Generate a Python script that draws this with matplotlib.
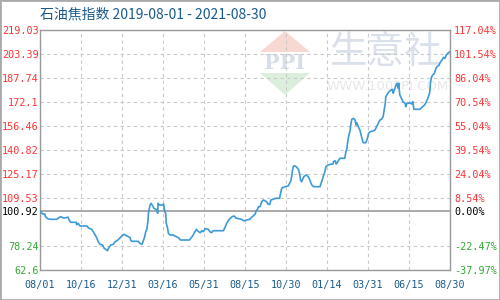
import matplotlib
matplotlib.use("Agg")
import matplotlib.pyplot as plt
import matplotlib.dates as mdates
from matplotlib.patches import Polygon, Rectangle
import pandas as pd

title = "石油焦指数 2019-08-01 - 2021-08-30"
start_date = "2019-08-01"
end_date = "2021-08-30"

day_offsets = [0, 5, 9, 10, 12, 14, 19, 31, 34, 38, 41, 44, 52, 54, 57, 67, 68, 71, 74, 87,
               90, 96, 99, 102, 105, 108, 111, 116, 119, 122, 125, 127, 131, 136, 139, 143, 148, 153, 156, 159,
               164, 167, 168, 170, 182, 185, 189, 191, 194, 196, 198, 200, 201, 204, 206, 209, 211, 215, 217, 218,
               219, 221, 227, 229, 230, 231, 233, 234, 236, 238, 241, 247, 250, 253, 258, 260, 277, 281, 284, 286,
               290, 293, 297, 300, 303, 306, 312, 315, 318, 321, 340, 343, 346, 349, 352, 356, 360, 363, 368, 374,
               377, 380, 383, 389, 392, 395, 399, 400, 403, 405, 408, 411, 414, 417, 420, 423, 426, 428, 432, 437,
               444, 446, 448, 451, 454, 460, 462, 465, 467, 468, 470, 473, 476, 479, 481, 483, 485, 487, 489, 493,
               494, 497, 499, 502, 504, 507, 519, 522, 524, 526, 528, 530, 534, 538, 543, 544, 547, 549, 551, 553,
               556, 565, 567, 569, 570, 572, 575, 576, 578, 581, 584, 586, 587, 590, 593, 596, 599, 604, 607, 609,
               612, 617, 621, 624, 627, 630, 633, 636, 638, 640, 641, 644, 647, 651, 653, 655, 656, 658, 660, 662,
               664, 665, 666, 667, 670, 673, 677, 678, 680, 683, 686, 689, 691, 692, 693, 704, 708, 711, 714, 717,
               720, 722, 723, 724, 726, 728, 731, 734, 736, 740, 741, 745, 748, 751, 753, 755, 757, 760]

index_values = [100.92, 99.09, 99.09, 97.34, 96.69, 96.03, 95.64, 95.64, 96.50, 97.34, 96.95, 96.50, 96.95, 95.19, 93.69, 93.69, 92.12, 93.04, 91.28, 91.28,
                89.97, 89.12, 87.37, 85.61, 83.65, 81.04, 79.35, 78.89, 76.74, 76.09, 75.18, 76.74, 78.89, 79.35, 81.04, 81.69, 83.45, 85.21, 85.86, 85.21,
                84.30, 83.65, 82.15, 81.30, 81.30, 80.00, 79.35, 81.04, 84.30, 87.56, 89.12, 94.08, 99.55, 104.96, 106.07, 104.31, 102.81, 102.16, 101.25, 99.55,
                106.07, 104.96, 104.96, 105.61, 103.85, 100.60, 99.55, 93.04, 90.82, 86.52, 85.41, 85.41, 84.76, 84.30, 83.25, 82.15, 82.15, 83.91, 85.41, 86.91,
                89.12, 87.82, 86.91, 88.21, 87.56, 89.51, 89.12, 87.56, 86.91, 88.21, 88.21, 90.43, 93.04, 94.73, 96.03, 97.34, 97.79, 96.50, 96.03, 95.64,
                94.73, 94.73, 95.19, 95.64, 96.95, 97.79, 99.09, 100.60, 102.16, 103.85, 103.85, 107.12, 108.22, 107.77, 107.12, 105.42, 105.42, 108.22, 108.68, 109.33,
                109.33, 112.59, 115.85, 116.50, 116.89, 117.35, 118.65, 120.80, 124.51, 127.78, 130.38, 130.38, 129.53, 128.23, 125.62, 121.26, 120.15, 121.72, 123.41, 124.51,
                124.51, 123.41, 122.37, 119.50, 118.00, 116.89, 116.89, 120.15, 122.37, 124.51, 126.67, 129.93, 131.04, 131.49, 131.69, 133.19, 133.84, 131.69, 132.54, 133.84,
                135.41, 135.41, 139.71, 141.92, 145.18, 149.48, 153.85, 157.11, 160.82, 161.47, 160.37, 157.11, 158.61, 156.00, 153.85, 149.48, 145.57, 145.57, 148.44, 151.70,
                152.74, 153.20, 153.85, 156.00, 158.22, 160.37, 160.82, 162.52, 166.89, 171.25, 175.55, 177.31, 178.81, 179.92, 180.37, 177.77, 179.46, 181.03, 183.18, 184.29,
                181.03, 184.29, 179.92, 176.66, 174.51, 172.29, 171.25, 169.03, 171.25, 171.25, 171.64, 170.79, 172.29, 170.14, 167.34, 167.34, 168.64, 169.49, 170.79, 172.94,
                175.55, 177.77, 181.03, 185.33, 188.59, 189.69, 190.80, 194.06, 195.11, 196.21, 197.32, 199.47, 201.23, 200.58, 202.73, 203.38, 204.23, 204.88]

tick_dates = ["2019-08-01", "2019-10-16", "2019-12-31", "2020-03-16", "2020-05-31", "2020-08-15",
              "2020-10-30", "2021-01-14", "2021-03-31", "2021-06-15", "2021-08-30"]
tick_labels = ["08/01", "10/16", "12/31", "03/16", "05/31", "08/15", "10/30", "01/14", "03/31", "06/15", "08/30"]

base_value = 100.92
left_values = [62.6, 78.24, 100.92, 109.53, 125.17, 140.82, 156.46, 172.1, 187.74, 203.39, 219.03]
left_labels = ["62.6", "78.24", "100.92", "109.53", "125.17", "140.82", "156.46", "172.1", "187.74", "203.39", "219.03"]
right_labels = ["-37.97%", "-22.47%", "0.00%", "8.54%", "24.04%", "39.54%", "55.04%", "70.54%", "86.04%", "101.54%", "117.04%"]

RED = "#ff3333"
GREEN = "#33aa33"
BLACK = "#000000"
BLUE_TXT = "#1a5b8c"
LINE = "#3d9ad6"
GRID = "#c8c8c8"
FRAME = "#999999"

dates = pd.to_datetime(start_date) + pd.to_timedelta(day_offsets, unit="D")
tdates = pd.to_datetime(tick_dates)

fig = plt.figure(figsize=(5, 3), dpi=100)
fig.patch.set_facecolor("white")
ax = fig.add_axes([0.08, 0.10, 0.82, 0.80])

def fx(x):
    return x / 500.0
def fy(y):
    return 1 - y / 300.0

# watermark
fig.patches.append(Polygon([(fx(260), fy(52)), (fx(310), fy(52)), (fx(285), fy(31))],
                           closed=True, transform=fig.transFigure, facecolor="#f8d8d3",
                           edgecolor="none", zorder=0))
fig.patches.append(Polygon([(fx(260), fy(73)), (fx(310), fy(73)), (fx(285), fy(95))],
                           closed=True, transform=fig.transFigure, facecolor="#dcefdd",
                           edgecolor="none", zorder=0))
fig.text(fx(285), fy(63), "PPI", ha="center", va="center", fontsize=15, fontweight="bold",
         family="DejaVu Serif", color="#d6deeb", zorder=0)
fig.text(fx(386), fy(53), "生意社", ha="center", va="center", fontsize=27, fontweight="medium",
         family=["Noto Sans CJK SC"], color="#dbe1eb", zorder=0)
fig.text(fx(388), fy(87), "WWW.100PPI.COM", ha="center", va="center", fontsize=9.5,
         family="DejaVu Sans", color="#e8e8e8", zorder=0)

ax.set_facecolor("none")
ax.set_zorder(2)

ax.plot(dates, index_values, color=LINE, lw=1.2, zorder=3)

x0 = pd.to_datetime(start_date)
x1 = pd.to_datetime(end_date)
ax.set_xlim(x0, x1)
ax.set_ylim(left_values[0], left_values[-1])

for v in left_values:
    if v == base_value:
        ax.axhline(v, color=FRAME, lw=1.2, zorder=2)
    else:
        ax.axhline(v, color=GRID, lw=0.8, ls=(0, (3, 3)), zorder=1)
for d in tdates:
    ax.axvline(d, color=GRID, lw=0.8, ls=(0, (3, 3)), zorder=1)

for s in ax.spines.values():
    s.set_color(FRAME)
    s.set_linewidth(1.0)

ax.set_xticks(tdates)
ax.set_xticklabels(tick_labels)
ax.set_yticks(left_values)
ax.set_yticklabels(left_labels)
ax.tick_params(axis="both", length=0, labelsize=7.3)
ax.tick_params(axis="x", pad=7, colors=BLUE_TXT)
ax.tick_params(axis="y", pad=1)
for lab in ax.get_xticklabels() + ax.get_yticklabels():
    lab.set_family("DejaVu Sans Mono")

def col(v):
    if v > base_value:
        return RED
    if v < base_value:
        return GREEN
    return BLACK

for lab, v in zip(ax.get_yticklabels(), left_values):
    lab.set_color(col(v))

ax2 = ax.twinx()
ax2.set_ylim(ax.get_ylim())
ax2.set_yticks(left_values)
ax2.set_yticklabels(right_labels)
ax2.tick_params(axis="y", length=0, labelsize=7.3, pad=3)
for lab, v in zip(ax2.get_yticklabels(), left_values):
    lab.set_color(col(v))
    lab.set_family("DejaVu Sans Mono")
for s in ax2.spines.values():
    s.set_visible(False)

fig.text(fx(40), fy(14), title, ha="left", va="center", fontsize=10,
         family=["Noto Sans CJK SC", "DejaVu Sans"], color=BLUE_TXT)

fig.patches.append(Rectangle((0, 0), 1, 1, transform=fig.transFigure, fill=False,
                             edgecolor="#aaaaaa", lw=2, zorder=10))

fig.savefig("out.png", dpi=100)
